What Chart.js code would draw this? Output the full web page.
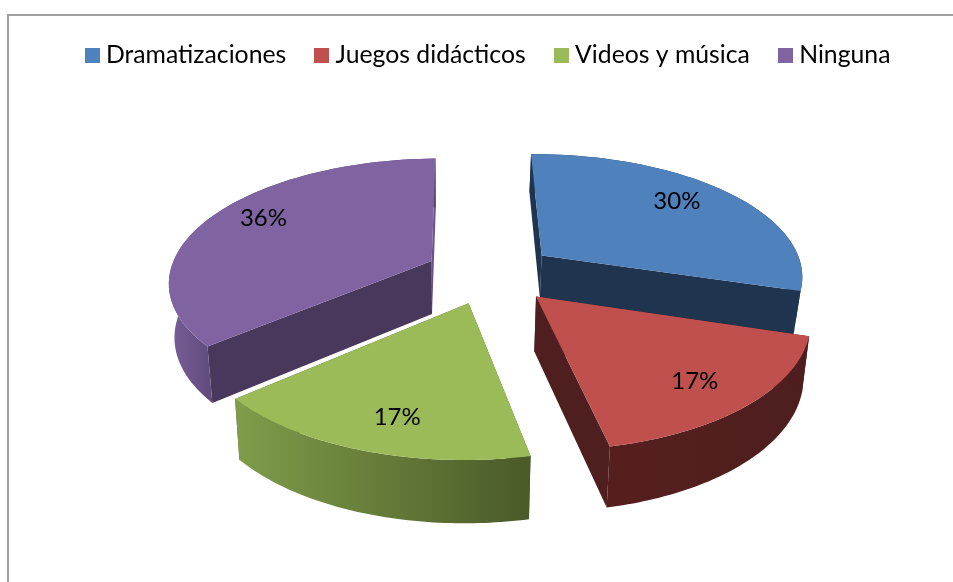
<!DOCTYPE html>
<html lang="es">
<head>
<meta charset="utf-8">
<title>Estrategias</title>
<script src="https://cdn.jsdelivr.net/npm/chart.js@4"></script>
<style>
  html, body { margin: 0; background: #fff; overflow: hidden; }
  #frame { position: absolute; left: 7px; top: 14px; right: 0; bottom: 0; border-left: 2px solid #a0a0a0; border-top: 2px solid #a0a0a0; }
  #pie { position: absolute; left: 0; top: 0; }
</style>
</head>
<body>
<div id="frame"></div>
<canvas id="pie" width="953" height="582"></canvas>
<script>
// chart values
const categories = ["Dramatizaciones", "Juegos didácticos", "Videos y música", "Ninguna"];
const percents = [30, 17, 17, 36];

const sliceColors = ["#4f81bd", "#c0504d", "#9bbb59", "#8064a2"];
const startWallColors = ["#1f344f", "#4f1f1f", "#4b5a2b", "#4a385c"];
const endWallColors = ["#1f344f", "#4f1f1f", "#4b5a2b", "#6b5289"];
const rimLeftColors = ["#1f344f", "#561f1f", "#7f9d4a", "#7a5f9a"];
const rimRightColors = ["#1f344f", "#4e1e1e", "#4a5a28", "#5d4878"];
const rimFade = [1, 1, 1, 0.18];
const wallDepths = [42, 55, 57, 53];
const labelRadius = [0.72, 0.77, 0.7, 0.76];
const labelNudge = [-7, 4, 16, -8];
const drawOrder = [0, 3, 1, 2];

const EXPLODE = 0.25;
const X_STRETCH = 2.15;
const PERSPECTIVE = 0.155;
const CHART_FONT = "Lato";

// disc coordinates to screen offset, the front of the pie comes out larger
function project(u, v, radius) {
  const k = 1 - PERSPECTIVE * v;
  return { x: radius * X_STRETCH * u / k, y: radius * v / k };
}

// disc position of a slice's tip, moved out along its middle angle
function sliceGeometry(arc) {
  const mid = (arc.startAngle + arc.endAngle) / 2;
  const du = EXPLODE * Math.cos(mid);
  const dv = EXPLODE * Math.sin(mid);
  const toScreen = (u, v) => {
    const p = project(u + du, v + dv, arc.outerRadius);
    return { x: arc.x + p.x, y: arc.y + p.y };
  };
  const rim = [];
  const steps = 60;
  for (let s = 0; s <= steps; s++) {
    const a = arc.startAngle + (arc.endAngle - arc.startAngle) * s / steps;
    rim.push(toScreen(Math.cos(a), Math.sin(a)));
  }
  return { apex: toScreen(0, 0), rim, mid, toScreen };
}

function tracePath(ctx, points) {
  ctx.beginPath();
  points.forEach((p, i) => (i === 0 ? ctx.moveTo(p.x, p.y) : ctx.lineTo(p.x, p.y)));
  ctx.closePath();
}

const pie3d = {
  id: "pie3d",
  beforeDatasetsDraw(chart) {
    const ctx = chart.ctx;
    const arcs = chart.getDatasetMeta(0).data;
    drawOrder.forEach(i => {
      const arc = arcs[i];
      const { apex, rim } = sliceGeometry(arc);
      const vanishX = arc.x - 40;
      const lower = p => ({
        x: p.x + (vanishX - p.x) * 0.02,
        y: p.y + wallDepths[i] + 0.04 * (p.y - apex.y)
      });

      ctx.save();
      // flat cut walls
      const first = rim[0];
      const last = rim[rim.length - 1];
      ctx.fillStyle = endWallColors[i];
      tracePath(ctx, [apex, last, lower(last), lower(apex)]);
      ctx.fill();
      ctx.fillStyle = startWallColors[i];
      tracePath(ctx, [apex, first, lower(first), lower(apex)]);
      ctx.fill();

      // curved outer wall
      const xs = rim.map(p => p.x);
      const left = Math.min(...xs);
      const right = Math.max(...xs);
      const grad = ctx.createLinearGradient(left, 0, right, 0);
      grad.addColorStop(0, rimLeftColors[i]);
      grad.addColorStop(rimFade[i], rimRightColors[i]);
      if (rimFade[i] < 1) grad.addColorStop(1, rimRightColors[i]);
      ctx.fillStyle = grad;
      tracePath(ctx, rim.concat(rim.map(lower).reverse()));
      ctx.fill();

      // top face
      ctx.fillStyle = arc.options.backgroundColor;
      tracePath(ctx, [apex].concat(rim));
      ctx.fill();
      ctx.restore();
    });
    return false;
  },
  afterDraw(chart) {
    const ctx = chart.ctx;
    ctx.save();
    ctx.font = "24px " + CHART_FONT;
    ctx.fillStyle = "#000";
    ctx.textAlign = "center";
    ctx.textBaseline = "middle";
    chart.getDatasetMeta(0).data.forEach((arc, i) => {
      const { mid, toScreen } = sliceGeometry(arc);
      const r = labelRadius[i];
      const p = toScreen(r * Math.cos(mid), r * Math.sin(mid));
      ctx.fillText(percents[i] + "%", p.x, p.y + labelNudge[i]);
    });
    ctx.restore();
  }
};

// square swatch wider than the legend's box so the label sits close to it
function swatch(color) {
  const c = document.createElement("canvas");
  c.width = 15;
  c.height = 15;
  const g = c.getContext("2d");
  g.fillStyle = color;
  g.fillRect(0, 0, 15, 15);
  return c;
}

new Chart(document.getElementById("pie"), {
  type: "pie",
  data: {
    labels: categories,
    datasets: [{ data: percents, backgroundColor: sliceColors, borderWidth: 0 }]
  },
  plugins: [pie3d],
  options: {
    responsive: false,
    animation: false,
    rotation: -1,
    radius: 122,
    layout: { padding: { top: 9, left: 28, right: 0, bottom: 113 } },
    plugins: {
      tooltip: { enabled: false },
      legend: {
        position: "top",
        labels: {
          color: "#000",
          font: { family: CHART_FONT, size: 24.75 },
          usePointStyle: true,
          boxWidth: 3,
          boxHeight: 15,
          padding: 34,
          generateLabels: () => categories.map((text, i) => ({
            text,
            fontColor: "#000",
            pointStyle: swatch(sliceColors[i]),
            index: i
          }))
        }
      }
    }
  }
});
</script>
</body>
</html>
